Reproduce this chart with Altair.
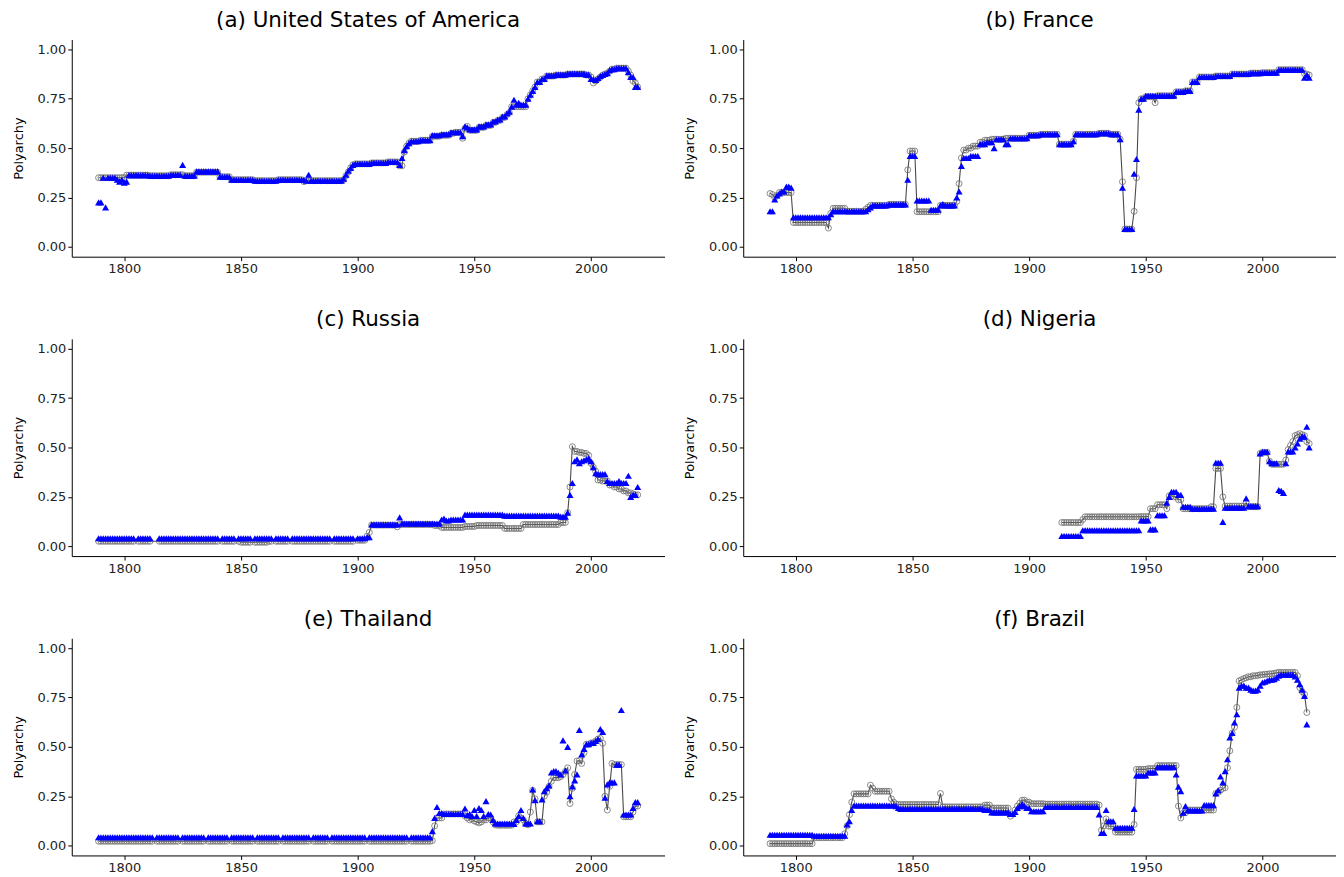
import altair as alt
import pandas as pd

# ---- data (step breakpoints: year -> value held until next breakpoint) ----
titles = ["(a) United States of America", "(b) France", "(c) Russia",
          "(d) Nigeria", "(e) Thailand", "(f) Brazil"]
countries = ["USA", "France", "Russia", "Nigeria", "Thailand", "Brazil"]
first_year = {"USA": 1789, "France": 1789, "Russia": 1789, "Nigeria": 1914, "Thailand": 1789, "Brazil": 1789}
last_year = {"USA": 2020, "France": 2020, "Russia": 2020, "Nigeria": 2020, "Thailand": 2020, "Brazil": 2019}

usa_circle = [(1789,.35),(1801,.363),(1811,.36),(1820,.365),(1826,.36),(1831,.378),(1841,.355),(1846,.34),
    (1856,.335),(1866,.34),(1877,.33),(1878,.335),(1894,.34),(1895,.36),(1896,.38),(1897,.40),(1898,.415),
    (1899,.42),(1906,.425),(1913,.43),(1918,.41),(1920,.48),(1921,.51),(1922,.525),(1923,.535),(1927,.54),
    (1932,.56),(1936,.565),(1940,.575),(1942,.58),(1945,.55),(1946,.60),(1947,.61),(1948,.59),(1952,.605),
    (1955,.615),(1958,.63),(1960,.64),(1962,.655),(1964,.67),(1965,.68),(1966,.71),(1973,.75),(1974,.77),
    (1975,.79),(1976,.81),(1977,.835),(1979,.85),(1981,.865),(1985,.87),(1990,.875),(1998,.87),(2000,.86),
    (2001,.83),(2002,.84),(2003,.85),(2004,.86),(2005,.87),(2006,.875),(2007,.88),(2008,.89),(2009,.90),
    (2011,.905),(2016,.89),(2017,.87),(2018,.84),(2019,.83),(2020,.81)]
usa_triangle = [(1789,.225),(1791,.35),(1792,.20),(1793,.35),(1797,.34),(1798,.33),(1799,.34),(1800,.325),
    (1801,.33),(1802,.363),(1811,.36),(1820,.365),(1825,.415),(1826,.36),(1831,.382),(1841,.355),(1846,.34),
    (1856,.335),(1866,.34),(1878,.335),(1879,.365),(1880,.335),(1894,.345),(1895,.365),(1896,.385),
    (1897,.40),(1898,.415),(1899,.42),(1906,.425),(1913,.43),(1918,.415),(1919,.45),(1920,.49),(1921,.51),
    (1922,.525),(1923,.535),(1927,.54),(1932,.565),(1936,.57),(1940,.58),(1945,.56),(1946,.61),(1947,.605),
    (1948,.595),(1952,.61),(1955,.62),(1958,.635),(1960,.645),(1962,.66),(1964,.675),(1965,.685),(1966,.71),
    (1967,.745),(1968,.72),(1969,.73),(1970,.72),(1973,.75),(1974,.77),(1975,.79),(1976,.81),(1977,.835),
    (1979,.85),(1981,.868),(1985,.872),(1990,.877),(1998,.872),(2000,.85),(2002,.845),(2003,.855),
    (2004,.865),(2005,.87),(2006,.875),(2007,.88),(2008,.895),(2009,.90),(2011,.905),(2016,.885),
    (2017,.86),(2019,.81)]

france_circle = [(1789,.27),(1790,.265),(1791,.25),(1792,.26),(1793,.275),(1799,.123),(1814,.095),(1815,.17),
    (1816,.195),(1822,.18),(1830,.19),(1831,.20),(1832,.21),(1840,.215),(1848,.39),(1849,.485),(1852,.178),
    (1862,.21),(1869,.23),(1870,.32),(1871,.45),(1872,.49),(1874,.50),(1876,.51),(1879,.53),(1881,.54),
    (1884,.545),(1890,.55),(1900,.565),(1905,.57),(1913,.52),(1919,.535),(1920,.57),(1930,.575),(1935,.57),
    (1939,.545),(1940,.33),(1941,.09),(1945,.18),(1946,.35),(1947,.73),(1948,.75),(1950,.76),(1954,.73),
    (1955,.765),(1963,.785),(1967,.79),(1970,.835),(1973,.86),(1980,.865),(1987,.875),(1995,.88),
    (2000,.882),(2007,.897),(2018,.877),(2019,.875),(2020,.87)]
france_triangle = [(1789,.18),(1791,.24),(1792,.26),(1793,.27),(1794,.28),(1796,.305),(1798,.30),(1799,.15),
    (1815,.165),(1816,.18),(1831,.19),(1832,.20),(1833,.21),(1840,.215),(1848,.34),(1849,.46),(1852,.235),
    (1858,.188),(1862,.21),(1863,.217),(1864,.21),(1869,.25),(1870,.28),(1871,.41),(1872,.45),(1875,.46),
    (1879,.52),(1882,.53),(1885,.50),(1886,.545),(1890,.52),(1892,.55),(1900,.565),(1905,.57),(1913,.52),
    (1919,.535),(1920,.57),(1930,.575),(1935,.57),(1939,.545),(1940,.30),(1941,.09),(1945,.37),(1946,.445),
    (1947,.695),(1948,.75),(1950,.765),(1963,.785),(1967,.79),(1970,.835),(1973,.86),(1980,.865),
    (1987,.875),(1995,.88),(2000,.882),(2007,.897),(2018,.856),(2019,.87),(2020,.856)]

russia_circle = [(1789,.025),(1850,.02),(1862,.025),(1900,.03),(1904,.05),(1905,.07),(1906,.107),(1917,.098),
    (1918,.11),(1933,.105),(1936,.095),(1946,.10),(1951,.105),(1963,.09),(1971,.11),(1987,.12),(1990,.17),
    (1991,.30),(1992,.504),(1993,.48),(1995,.475),(1997,.47),(1999,.46),(2000,.42),(2001,.40),(2002,.38),
    (2003,.335),(2005,.33),(2008,.31),(2010,.30),(2012,.29),(2014,.28),(2016,.27),(2018,.265),(2019,.26)]
russia_triangle = [(1789,.04),(1904,.045),(1906,.11),(1918,.146),(1919,.115),(1936,.135),(1937,.14),
    (1938,.13),(1940,.135),(1946,.16),(1963,.155),(1987,.15),(1990,.17),(1991,.26),(1992,.32),(1993,.43),
    (1994,.44),(1995,.42),(1996,.43),(1997,.435),(1998,.44),(1999,.445),(2000,.43),(2001,.40),(2002,.37),
    (2003,.365),(2007,.33),(2008,.32),(2012,.33),(2013,.32),(2016,.357),(2017,.25),(2018,.26),(2020,.30)]

nigeria_circle = [(1914,.12),(1923,.135),(1924,.149),(1948,.15),(1952,.19),(1955,.21),(1959,.19),(1960,.255),
    (1962,.25),(1964,.235),(1966,.19),(1978,.20),(1980,.394),(1983,.25),(1984,.203),(1993,.22),(1994,.20),
    (1999,.47),(2000,.475),(2003,.43),(2004,.415),(2010,.437),(2011,.49),(2012,.51),(2013,.53),(2014,.56),
    (2015,.565),(2016,.57),(2017,.565),(2018,.56),(2019,.53),(2020,.52)]
nigeria_triangle = [(1914,.052),(1923,.081),(1948,.13),(1952,.085),(1955,.157),(1959,.22),(1960,.25),
    (1961,.275),(1964,.26),(1966,.20),(1970,.19),(1980,.423),(1983,.123),(1984,.195),(1993,.242),(1994,.203),
    (1999,.47),(2000,.478),(2003,.43),(2004,.42),(2007,.285),(2008,.28),(2009,.27),(2010,.42),(2011,.48),
    (2014,.50),(2015,.52),(2016,.545),(2017,.555),(2019,.605),(2020,.50)]

thailand_circle = [(1789,.022),(1932,.025),(1933,.10),(1934,.14),(1937,.16),(1946,.15),(1947,.14),(1948,.13),
    (1949,.135),(1950,.125),(1951,.12),(1952,.115),(1953,.12),(1954,.13),(1956,.14),(1958,.12),(1959,.105),
    (1960,.103),(1967,.12),(1969,.15),(1970,.14),(1971,.13),(1972,.11),(1973,.105),(1974,.17),(1975,.28),
    (1976,.237),(1977,.12),(1980,.25),(1981,.27),(1982,.30),(1983,.326),(1984,.344),(1987,.35),(1988,.36),
    (1989,.375),(1990,.394),(1991,.213),(1992,.29),(1993,.36),(1994,.428),(1995,.43),(1996,.416),(1997,.47),
    (1998,.513),(2000,.52),(2002,.53),(2003,.54),(2004,.543),(2005,.518),(2006,.25),(2007,.18),(2008,.30),
    (2009,.416),(2010,.41),(2014,.146),(2018,.17),(2019,.20)]
thailand_triangle = [(1789,.042),(1932,.073),(1933,.14),(1934,.195),(1935,.165),(1937,.16),(1946,.188),
    (1947,.155),(1948,.16),(1949,.15),(1950,.18),(1951,.15),(1952,.19),(1953,.18),(1954,.15),(1955,.225),
    (1956,.16),(1957,.157),(1958,.13),(1959,.112),(1967,.11),(1968,.13),(1969,.15),(1970,.18),(1971,.14),
    (1972,.112),(1975,.284),(1976,.23),(1977,.123),(1979,.234),(1980,.276),(1981,.29),(1982,.305),(1983,.37),
    (1984,.377),(1986,.369),(1987,.36),(1988,.533),(1989,.38),(1990,.50),(1991,.25),(1992,.30),(1993,.33),
    (1994,.36),(1995,.585),(1996,.462),(1997,.49),(1998,.513),(2000,.52),(2002,.53),(2003,.54),(2004,.59),
    (2005,.575),(2006,.242),(2007,.31),(2008,.32),(2011,.41),(2013,.687),(2014,.157),(2018,.19),(2019,.22)]

brazil_circle = [(1789,.01),(1808,.04),(1821,.06),(1822,.10),(1823,.157),(1824,.22),(1825,.262),(1832,.306),
    (1833,.29),(1834,.275),(1841,.237),(1842,.22),(1843,.21),(1844,.208),(1862,.264),(1863,.196),(1881,.205),
    (1884,.19),(1892,.149),(1893,.16),(1894,.18),(1895,.20),(1896,.215),(1897,.23),(1899,.22),(1901,.212),
    (1907,.21),(1930,.205),(1931,.078),(1932,.10),(1933,.135),(1934,.098),(1937,.068),(1945,.107),(1946,.386),
    (1951,.39),(1955,.405),(1964,.20),(1965,.14),(1966,.166),(1968,.18),(1980,.264),(1981,.27),(1982,.28),
    (1983,.29),(1984,.293),(1985,.394),(1986,.48),(1987,.57),(1988,.60),(1989,.70),(1990,.834),(1991,.84),
    (1992,.846),(1993,.85),(1994,.855),(1996,.86),(1998,.862),(1999,.865),(2001,.868),(2003,.87),(2005,.872),
    (2006,.875),(2007,.877),(2015,.86),(2016,.80),(2017,.78),(2018,.766),(2019,.674)]
brazil_triangle = [(1789,.055),(1808,.05),(1822,.107),(1823,.123),(1824,.18),(1825,.203),(1843,.20),
    (1844,.19),(1845,.186),(1881,.18),(1884,.168),(1892,.16),(1894,.17),(1895,.19),(1896,.20),(1897,.21),
    (1898,.20),(1899,.19),(1901,.174),(1907,.195),(1930,.157),(1931,.064),(1933,.18),(1934,.123),(1937,.09),
    (1945,.186),(1946,.355),(1951,.37),(1955,.397),(1963,.36),(1964,.298),(1965,.275),(1966,.166),(1967,.20),
    (1968,.178),(1975,.205),(1980,.264),(1981,.28),(1982,.35),(1983,.32),(1984,.377),(1985,.437),(1986,.547),
    (1987,.57),(1988,.623),(1989,.665),(1990,.80),(1991,.81),(1993,.80),(1995,.79),(1996,.785),(1998,.79),
    (1999,.81),(2000,.826),(2001,.83),(2002,.835),(2003,.84),(2005,.843),(2006,.85),(2007,.86),(2008,.865),
    (2014,.856),(2015,.84),(2016,.817),(2017,.79),(2018,.758),(2019,.614)]

missing_years = {
    "Russia": [1805, 1812, 1813, 1814, 1841, 1848, 1855, 1864, 1871, 1889, 1899],
    "Thailand": [1813, 1824, 1835, 1845, 1856, 1867, 1880, 1888, 1904, 1922],
}

series = {
    "USA": (usa_circle, usa_triangle), "France": (france_circle, france_triangle),
    "Russia": (russia_circle, russia_triangle), "Nigeria": (nigeria_circle, nigeria_triangle),
    "Thailand": (thailand_circle, thailand_triangle), "Brazil": (brazil_circle, brazil_triangle),
}


def expand(bp, end):
    out = []
    for i, (yr, v) in enumerate(bp):
        nxt = bp[i + 1][0] if i + 1 < len(bp) else end + 1
        out += [v] * (nxt - yr)
    return out


rows = []
for ctry in countries:
    c_bp, t_bp = series[ctry]
    s, e = first_year[ctry], last_year[ctry]
    cv, tv = expand(c_bp, e), expand(t_bp, e)
    for i, yr in enumerate(range(s, e + 1)):
        if yr in missing_years.get(ctry, []):
            continue
        rows.append({"country": ctry, "year": yr, "c": cv[i], "t": tv[i]})
df = pd.DataFrame(rows)

FONT = "DejaVu Sans"
xs = alt.Scale(domain=[1777.5, 2031.5], nice=False, zero=False)
ys = alt.Scale(domain=[-0.05, 1.05], nice=False, zero=False)
xaxis = alt.Axis(values=[1800, 1850, 1900, 1950, 2000], format="d", title=None)
yaxis = alt.Axis(values=[0, 0.25, 0.5, 0.75, 1.0], format=".2f", title="Polyarchy")


def panel(ctry, title):
    base = alt.Chart(df[df.country == ctry])
    x = alt.X("year:Q", scale=xs, axis=xaxis)
    line = base.mark_line(color="#4a4a4a", strokeWidth=1.1).encode(
        x=x, y=alt.Y("c:Q", scale=ys, axis=yaxis))
    circ = base.mark_point(shape="circle", filled=False, color="#6e6e6e", size=36,
                           strokeWidth=0.8, opacity=1).encode(
        x=x, y=alt.Y("c:Q", scale=ys, axis=yaxis))
    tri = base.mark_point(shape="triangle-up", filled=True, color="#0000ff", size=50,
                          strokeWidth=0, opacity=1).encode(
        x=x, y=alt.Y("t:Q", scale=ys, axis=yaxis))
    return alt.layer(line, circ, tri).properties(
        width=595, height=218,
        title=alt.TitleParams(title, fontSize=21.5, font=FONT, fontWeight="normal",
                              anchor="middle", frame="group", offset=8, color="black"))


panels = [panel(c, t) for c, t in zip(countries, titles)]
chart = alt.concat(*panels, columns=2, spacing={"row": 33.5, "column": 19}).properties(
    padding={"left": 4, "top": 0, "right": 0, "bottom": 0}
).configure_view(stroke=None).configure_axis(
    grid=False, domainColor="black", tickColor="black", labelColor="#222222",
    titleColor="black", labelFont=FONT, titleFont=FONT, labelFontSize=13,
    titleFontSize=13, titleFontWeight="normal", tickSize=4, domainWidth=1,
    tickWidth=1, labelPadding=2
).configure_axisY(titlePadding=12)

chart.save("out.html", embed_options={"renderer": "svg", "actions": False})
